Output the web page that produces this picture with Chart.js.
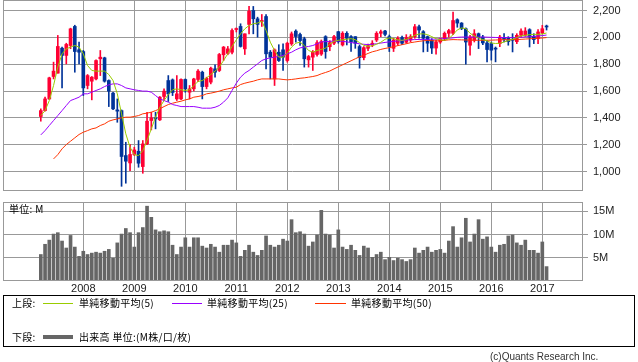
<!DOCTYPE html>
<html>
<head>
<meta charset="utf-8">
<script src="https://cdn.jsdelivr.net/npm/chart.js@4.4.1/dist/chart.umd.min.js"></script>
<style>
html, body { margin: 0; padding: 0; background: #fff; width: 638px; height: 362px; overflow: hidden; }
#wrap { position: relative; width: 638px; height: 362px; }
#priceBox { position: absolute; left: 0; top: 0; width: 638px; height: 193px; }
#volBox { position: absolute; left: 0; top: 190px; width: 638px; height: 110px; }
.txt { position: absolute; white-space: nowrap; font-family: "Noto Sans CJK JP", sans-serif; font-size: 10px; line-height: 12px; height: 12px; color: #000; letter-spacing: 0.3px; }
#legendBox { position: absolute; left: 3px; top: 295px; width: 632px; height: 52px; border: 1px solid #000; box-sizing: border-box; }
#legendLines { position: absolute; left: 0; top: 295px; }
#copy { position: absolute; left: 490px; top: 351px; font-family: "Liberation Sans", sans-serif; font-size: 10px; line-height: 12px; color: #333; white-space: nowrap; }
</style>
</head>
<body>
<div id="wrap">
  <div id="priceBox"><canvas id="priceChart" width="638" height="193"></canvas></div>
  <div id="volBox"><canvas id="volChart" width="638" height="110"></canvas></div>
  <div class="txt" style="left:9px; top:203px;">単位: M</div>

  <div id="legendBox"></div>
  <svg id="legendLines" width="400" height="52" xmlns="http://www.w3.org/2000/svg">
    <line x1="43" y1="8.5" x2="73" y2="8.5" stroke="#99cc00" stroke-width="1"/>
    <line x1="172" y1="8.5" x2="202" y2="8.5" stroke="#9900ff" stroke-width="1"/>
    <line x1="315" y1="8.5" x2="346" y2="8.5" stroke="#ff3300" stroke-width="1"/>
    <line x1="43" y1="42" x2="73" y2="42" stroke="#666666" stroke-width="4"/>
  </svg>
  <div class="txt" style="left:12px; top:297px;">上段:</div>
  <div class="txt" style="left:79px; top:297px;">単純移動平均(5)</div>
  <div class="txt" style="left:207px; top:297px;">単純移動平均(25)</div>
  <div class="txt" style="left:351px; top:297px;">単純移動平均(50)</div>

  <div class="txt" style="left:12px; top:331px;">下段:</div>
  <div class="txt" style="left:79px; top:331px;">出来高 単位:(M株/口/枚)</div>

  <div id="copy">(c)Quants Research Inc.</div>
</div>
<script>
// 月足 2007年3月 〜 2017年2月
const openP = [
  1410, 1454, 1541, 1708, 1733, 1919, 1865, 1939, 2081, 1907,
  1894, 1641, 1673, 1690, 1840, 1847, 1678, 1584, 1459, 1454,
  1119, 1064, 1127, 1151, 1037, 1206, 1380, 1398, 1385, 1559,
  1678, 1683, 1541, 1541, 1686, 1591, 1616, 1686, 1740, 1633,
  1666, 1765, 1753, 1870, 1880, 1889, 2058, 2081, 1914, 2096,
  2200, 2138, 2118, 2155, 1889, 1690, 1889, 1907, 1827, 1951,
  2046, 2021, 1989, 1832, 1852, 1872, 1875, 2005, 1930, 1956,
  2042, 1943, 2030, 2005, 2005, 1931, 1849, 1918, 1943, 1980,
  2030, 2047, 2005, 1918, 1956, 1998, 1963, 1980, 2005, 2079,
  2042, 2005, 1978, 1920, 1965, 1990, 2030, 2030, 2131, 2106,
  2064, 1941, 1978, 2027, 2002, 1958, 1953, 1918, 1953, 2000,
  2000, 1985, 1968, 2015, 2015, 2057, 2007, 1990, 2032, 2080
];
const highP = [
  1467, 1554, 1703, 1815, 2014, 1927, 1956, 2068, 2090, 1964,
  1902, 1723, 1708, 1832, 1902, 1852, 1683, 1591, 1541, 1459,
  1218, 1201, 1181, 1231, 1231, 1442, 1442, 1442, 1559, 1616,
  1715, 1690, 1715, 1690, 1690, 1641, 1695, 1760, 1748, 1703,
  1778, 1795, 1880, 1932, 1932, 2063, 2070, 2101, 2026, 2230,
  2230, 2150, 2170, 2170, 1902, 1914, 1945, 1951, 1964, 2040,
  2056, 2031, 2001, 1865, 1902, 1975, 1980, 2012, 1975, 2015,
  2045, 2042, 2042, 2012, 2005, 1943, 1931, 1950, 1975, 2042,
  2054, 2052, 2017, 1993, 2005, 2010, 2020, 2020, 2096, 2091,
  2050, 2010, 1990, 1980, 1995, 2040, 2060, 2188, 2138, 2110,
  2070, 2015, 2057, 2032, 2015, 1978, 1965, 1928, 2015, 2027,
  2005, 2027, 2027, 2064, 2072, 2064, 2027, 2057, 2089, 2091
];
const lowP = [
  1375, 1449, 1535, 1690, 1733, 1623, 1802, 1915, 1740, 1802,
  1566, 1616, 1534, 1683, 1715, 1666, 1484, 1460, 1367, 890,
  913, 1007, 1119, 1032, 987, 1200, 1310, 1318, 1380, 1529,
  1522, 1566, 1529, 1536, 1591, 1541, 1600, 1670, 1541, 1616,
  1653, 1703, 1745, 1827, 1870, 1877, 2040, 1927, 1872, 2026,
  2026, 2001, 2081, 1765, 1690, 1641, 1820, 1753, 1815, 1940,
  1964, 1939, 1778, 1778, 1753, 1860, 1865, 1844, 1900, 1945,
  1956, 1935, 1943, 1894, 1918, 1770, 1832, 1900, 1930, 1968,
  2005, 2010, 1894, 1894, 1940, 1945, 1955, 1965, 1993, 1993,
  1891, 1894, 1879, 1875, 1955, 1975, 2000, 2020, 2075, 2057,
  1800, 1867, 1965, 1916, 1945, 1817, 1830, 1817, 1930, 1965,
  1941, 1891, 1953, 2000, 2007, 1928, 1953, 1953, 2027, 2054
];
const closeP = [
  1454, 1541, 1698, 1748, 1932, 1865, 1947, 2063, 1894, 1889,
  1623, 1715, 1703, 1827, 1852, 1673, 1599, 1467, 1450, 1112,
  1077, 1127, 1161, 1062, 1206, 1375, 1400, 1392, 1554, 1599,
  1579, 1589, 1579, 1686, 1616, 1616, 1690, 1748, 1633, 1695,
  1770, 1740, 1872, 1927, 1914, 2051, 2063, 1932, 2026, 2195,
  2138, 2096, 2125, 1877, 1852, 1907, 1827, 1852, 1956, 2026,
  2006, 1976, 1840, 1857, 1889, 1960, 1968, 1894, 1960, 2005,
  1968, 2030, 1993, 1968, 1956, 1849, 1923, 1938, 1956, 2030,
  2042, 2022, 1931, 1980, 1993, 1956, 1998, 2005, 2079, 2054,
  1993, 1956, 1920, 1965, 1990, 2030, 2050, 2125, 2106, 2064,
  1965, 2002, 2027, 1998, 1958, 1909, 1904, 1912, 2002, 1985,
  1968, 1978, 2015, 2047, 2047, 2002, 1983, 2040, 2064, 2077
];
// 出来高 (M)
const volume = [
  5.7, 7.9, 8.8, 10.1, 10.4, 8.6, 7.1, 9.8, 7.3, 5.3,
  6.4, 5.7, 6.0, 6.2, 6.0, 6.4, 6.8, 4.9, 8.2, 10.1,
  11.3, 10.4, 7.3, 10.4, 11.5, 16.1, 13.7, 11.0, 10.6, 10.8,
  10.6, 7.7, 5.7, 7.3, 9.3, 7.3, 9.3, 9.3, 7.5, 7.1,
  7.9, 7.3, 6.2, 7.7, 7.7, 8.8, 8.2, 5.3, 6.6, 7.7,
  6.2, 5.5, 6.6, 9.7, 7.7, 7.3, 7.7, 9.0, 8.6, 13.2,
  10.4, 10.6, 10.1, 7.5, 8.4, 9.9, 15.2, 10.1, 9.9, 7.1,
  11.0, 7.3, 6.8, 7.7, 6.6, 5.5, 7.5, 7.1, 5.1, 5.7,
  6.2, 4.6, 5.1, 4.4, 4.9, 4.6, 4.2, 4.6, 7.1, 6.0,
  6.6, 7.3, 6.2, 6.6, 6.8, 6.0, 8.6, 11.7, 7.3, 9.3,
  13.5, 8.4, 10.1, 13.2, 9.0, 9.5, 7.3, 6.2, 7.7, 7.9,
  9.7, 9.9, 8.2, 7.7, 8.8, 6.6, 6.6, 6.0, 8.4, 3.1
];
// 移動平均
const ma5 = [
  1417, 1454, 1529, 1641, 1778, 1877, 1914, 1927, 1939, 1927,
  1877, 1790, 1753, 1748, 1748, 1748, 1723, 1678, 1579, 1430,
  1281, 1181, 1126, 1119, 1156, 1231, 1318, 1405, 1479, 1529,
  1574, 1609, 1616, 1609, 1604, 1609, 1641, 1671, 1678, 1698,
  1723, 1748, 1778, 1827, 1877, 1932, 1981, 2026, 2063, 2088,
  2101, 2106, 2120, 2051, 1964, 1902, 1852, 1852, 1882, 1927,
  1956, 1964, 1939, 1902, 1889, 1902, 1910, 1920, 1950, 1970,
  1978, 1981, 1986, 1990, 1982, 1960, 1940, 1933, 1937, 1948,
  1963, 1985, 1996, 1990, 1980, 1978, 1983, 2000, 2015, 2025,
  2026, 2020, 2005, 1990, 1982, 1978, 1990, 2020, 2055, 2070,
  2065, 2030, 2010, 1995, 1982, 1975, 1958, 1954, 1956, 1965,
  1975, 1985, 1998, 2010, 2015, 2020, 2022, 2022, 2025, 2032
];
const ma25 = [
  1273, 1305, 1343, 1380, 1417, 1454, 1492, 1529, 1541, 1554,
  1579, 1579, 1591, 1604, 1616, 1633, 1646, 1653, 1653, 1641,
  1623, 1616, 1609, 1604, 1599, 1599, 1591, 1566, 1541, 1529,
  1517, 1499, 1492, 1484, 1484, 1484, 1484, 1479, 1472, 1472,
  1472, 1479, 1492, 1517, 1549, 1604, 1658, 1703, 1733, 1753,
  1778, 1802, 1827, 1840, 1847, 1852, 1857, 1865, 1877, 1889,
  1907, 1921, 1927, 1932, 1939, 1951, 1966, 1968, 1970, 1972,
  1973, 1970, 1966, 1961, 1957, 1952, 1948, 1946, 1948, 1952,
  1957, 1962, 1966, 1970, 1973, 1976, 1979, 1982, 1983, 1984,
  1984, 1985, 1986, 1987, 1988, 1990, 1993, 1996, 2000, 2002,
  2002, 2002, 2002, 2002, 2002, 2001, 2000, 1999, 1998, 1998,
  1998, 1998, 1998, 2000, 2003, 2005, 2007, 2010, 2013, 2017
];
const ma50 = [
  null, null, null, 1094, 1126, 1169, 1201, 1226, 1251, 1276,
  1293, 1305, 1318, 1325, 1343, 1355, 1375, 1385, 1392, 1400,
  1405, 1405, 1410, 1417, 1430, 1435, 1442, 1454, 1467, 1484,
  1499, 1509, 1517, 1524, 1534, 1541, 1554, 1559, 1566, 1579,
  1584, 1591, 1599, 1609, 1616, 1623, 1628, 1648, 1658, 1666,
  1673, 1683, 1690, 1690, 1690, 1690, 1690, 1686, 1683, 1686,
  1690, 1695, 1698, 1703, 1708, 1715, 1728, 1738, 1749, 1765,
  1780, 1795, 1810, 1825, 1840, 1855, 1866, 1880, 1892, 1900,
  1910, 1917, 1923, 1930, 1938, 1945, 1952, 1960, 1965, 1970,
  1974, 1977, 1975, 1973, 1975, 1978, 1981, 1983, 1982, 1981,
  1980, 1979, 1978, 1978, 1978, 1978, 1979, 1980, 1981, 1982,
  1982, 1983, 1983, 1985, 1987, 1989, 1991, 1993, 1995, 1998
];
// 目盛り
const yearLabels = ['2008', '2009', '2010', '2011', '2012', '2013', '2014', '2015', '2016', '2017'];
const yearIndex = [10, 22, 34, 46, 58, 70, 82, 94, 106, 118]; // 各年1月の位置
const priceTicks = [1000, 1200, 1400, 1600, 1800, 2000, 2200];
const volTicks = [5, 10, 15];

const UP = '#ff0033';
const DOWN = '#003399';
const GRID = '#999999';
const X_MIN = -8.894, X_MAX = 127.34;

const candleColors = closeP.map((c, i) => c >= openP[i] ? UP : DOWN);
const pts = arr => arr.map((v, i) => ({ x: i, y: v }));

// 枠線
const framePlugin = {
    id: 'frame',
    afterDraw(chart) {
        const a = chart.chartArea, c = chart.ctx;
        c.save();
        c.strokeStyle = GRID;
        c.lineWidth = 1;
        c.strokeRect(Math.round(a.left) + 0.5, Math.round(a.top) + 0.5,
            Math.round(a.right) - Math.round(a.left), Math.round(a.bottom) - Math.round(a.top) - 1);
        c.restore();
    }
};

const yearTickBuilder = scale => { scale.ticks = yearIndex.map(v => ({ value: v })); };

new Chart(document.getElementById('priceChart'), {
    data: {
        datasets: [
            { type: 'line', label: '単純移動平均(5)', data: pts(ma5), borderColor: '#99cc00', borderWidth: 1, pointRadius: 0, order: 0 },
            { type: 'line', label: '単純移動平均(25)', data: pts(ma25), borderColor: '#9900ff', borderWidth: 1, pointRadius: 0, order: 0 },
            { type: 'line', label: '単純移動平均(50)', data: pts(ma50), borderColor: '#ff3300', borderWidth: 1, pointRadius: 0, order: 0 },
            { type: 'bar', label: 'body', data: openP.map((o, i) => ({ x: i, y: [o, closeP[i]] })),
              backgroundColor: candleColors, barThickness: 3, minBarLength: 1, grouped: false, order: 1 },
            { type: 'bar', label: 'wick', data: lowP.map((l, i) => ({ x: i, y: [l, highP[i]] })),
              backgroundColor: candleColors, barThickness: 1, grouped: false, order: 2 }
        ]
    },
    options: {
        responsive: false,
        animation: false,
        layout: { padding: { left: 3, right: 0, top: 0, bottom: 2 } },
        plugins: { legend: { display: false }, tooltip: { enabled: false } },
        scales: {
            x: {
                type: 'linear', min: X_MIN, max: X_MAX, offset: false,
                afterBuildTicks: yearTickBuilder,
                grid: { color: GRID, drawTicks: false, offset: false },
                border: { display: false },
                ticks: { display: false },
                afterFit: s => { s.height = 0; }
            },
            y: {
                position: 'right', min: 855, max: 2278,
                afterBuildTicks: s => { s.ticks = priceTicks.map(v => ({ value: v })); },
                grid: { color: GRID, tickLength: 5 },
                border: { display: false },
                ticks: {
                    padding: 6, color: '#222',
                    font: { family: 'Liberation Sans', size: 11 },
                    callback: v => v.toLocaleString('en-US')
                },
                afterFit: s => { s.width = 56; s.paddingTop = 0; s.paddingBottom = 0; }
            }
        }
    },
    plugins: [framePlugin]
});

new Chart(document.getElementById('volChart'), {
    type: 'bar',
    data: {
        datasets: [{
            label: '出来高', data: pts(volume),
            backgroundColor: '#666666', barThickness: 3, grouped: false
        }]
    },
    options: {
        responsive: false,
        animation: false,
        layout: { padding: { left: 3, right: 0, top: 12, bottom: 0 } },
        plugins: { legend: { display: false }, tooltip: { enabled: false } },
        scales: {
            x: {
                type: 'linear', min: X_MIN, max: X_MAX, offset: false,
                afterBuildTicks: yearTickBuilder,
                grid: { color: GRID, drawTicks: false, offset: false },
                border: { display: false },
                ticks: {
                    padding: 1, color: '#222', autoSkip: false, maxRotation: 0,
                    font: { family: 'Liberation Sans', size: 11 },
                    callback: (v, i) => yearLabels[i]
                },
                afterFit: s => { s.height = 19; s.paddingLeft = 0; s.paddingRight = 0; }
            },
            y: {
                position: 'right', min: 0, max: 17.0,
                afterBuildTicks: s => { s.ticks = volTicks.map(v => ({ value: v })); },
                grid: { color: GRID, tickLength: 6 },
                border: { display: false },
                ticks: {
                    padding: 5, color: '#222',
                    font: { family: 'Liberation Sans', size: 11 },
                    callback: v => v + 'M'
                },
                afterFit: s => { s.width = 56; s.paddingTop = 0; s.paddingBottom = 0; }
            }
        }
    },
    plugins: [framePlugin]
});
</script>
</body>
</html>
